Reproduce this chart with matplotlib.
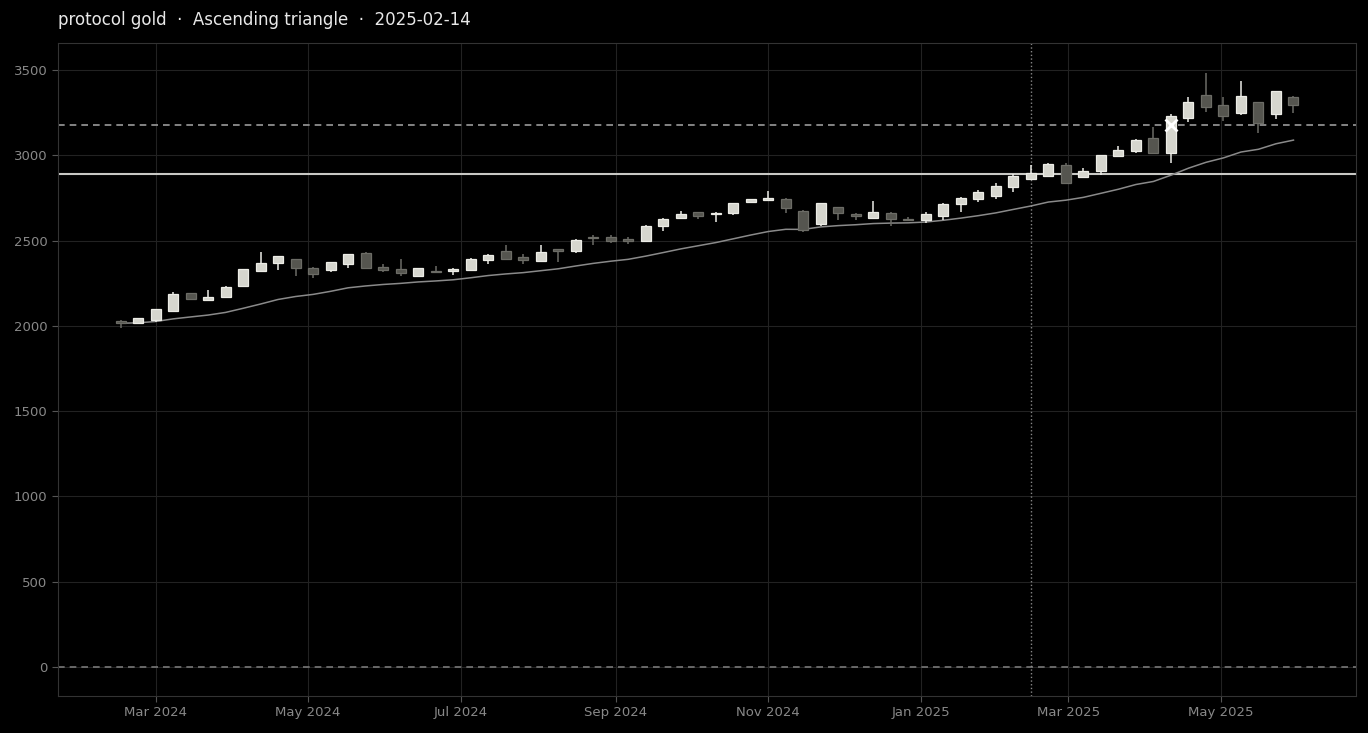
import matplotlib
matplotlib.use("Agg")
import matplotlib.pyplot as plt
import matplotlib.dates as mdates
import numpy as np
import pandas as pd

# weekly candles, Fridays from 2024-02-16
start = "2024-02-16"
n_weeks = 68

opens = [2030, 2015, 2034, 2086, 2190, 2150, 2167, 2235, 2323, 2367,
         2390, 2340, 2326, 2361, 2425, 2343, 2331, 2292, 2322, 2323,
         2326, 2386, 2437, 2405, 2380, 2448, 2436, 2520, 2518, 2508,
         2496, 2585, 2630, 2668, 2656, 2660, 2725, 2737, 2745, 2676,
         2596, 2695, 2658, 2635, 2664, 2628, 2621, 2646, 2712, 2746,
         2763, 2815, 2863, 2881, 2940, 2875, 2908, 2995, 3027, 3099,
         3016, 3216, 3352, 3293, 3246, 3310, 3240, 3339]
highs = [2032, 2046, 2100, 2197, 2192, 2212, 2235, 2334, 2430, 2410,
         2392, 2346, 2375, 2421, 2431, 2360, 2390, 2339, 2350, 2337,
         2396, 2420, 2475, 2420, 2475, 2450, 2510, 2530, 2531, 2520,
         2589, 2630, 2672, 2670, 2666, 2722, 2746, 2788, 2747, 2678,
         2720, 2697, 2660, 2733, 2666, 2640, 2665, 2719, 2754, 2796,
         2840, 2890, 2943, 2955, 2955, 2927, 3004, 3052, 3094, 3167,
         3240, 3343, 3484, 3343, 3433, 3312, 3376, 3347]
lows = [1990, 2013, 2025, 2084, 2157, 2148, 2165, 2233, 2321, 2325,
        2295, 2280, 2314, 2340, 2335, 2318, 2292, 2290, 2315, 2300,
        2324, 2360, 2392, 2360, 2378, 2375, 2428, 2475, 2488, 2482,
        2492, 2555, 2628, 2625, 2608, 2648, 2718, 2735, 2660, 2552,
        2585, 2618, 2620, 2630, 2585, 2615, 2601, 2620, 2670, 2728,
        2742, 2785, 2861, 2879, 2838, 2865, 2882, 2992, 3012, 3014,
        2953, 3197, 3255, 3198, 3236, 3130, 3210, 3248]
closes = [2015, 2044, 2097, 2187, 2160, 2168, 2226, 2331, 2367, 2408,
          2337, 2302, 2373, 2419, 2337, 2325, 2310, 2337, 2318, 2335,
          2394, 2418, 2394, 2385, 2430, 2441, 2506, 2512, 2500, 2495,
          2587, 2628, 2654, 2646, 2664, 2720, 2744, 2747, 2690, 2560,
          2718, 2660, 2642, 2665, 2628, 2618, 2653, 2717, 2752, 2782,
          2817, 2876, 2893, 2946, 2840, 2910, 3002, 3028, 3092, 3016,
          3230, 3315, 3285, 3232, 3346, 3188, 3374, 3292]

title = "protocol gold  \u00b7  Ascending triangle  \u00b7  2025-02-14"
support_level = 2890
resistance_level = 3178
signal_date = "2025-02-14"
breakout_index = 60

dates = pd.date_range(start, periods=n_weeks, freq="7D")
ema = pd.Series(closes).ewm(span=20, adjust=False).mean()

bg = "#000000"
up_fill, up_edge = "#d6d6ce", "#ececE6"
dn_fill, dn_edge = "#55554f", "#6c6c66"

fig = plt.figure(figsize=(13.68, 7.33), dpi=100, facecolor=bg)
ax = fig.add_axes([58 / 1368, 37 / 733, 1298 / 1368, 653 / 733], facecolor=bg)

x = mdates.date2num(dates)
body_w = 4.0
for xi, o, h, l, c in zip(x, opens, highs, lows, closes):
    up = c >= o
    fill = up_fill if up else dn_fill
    edge = up_edge if up else dn_edge
    ax.vlines(xi, l, h, color=edge, lw=1.1, zorder=3)
    ax.bar(xi, abs(c - o) or 2, bottom=min(o, c), width=body_w,
           color=fill, edgecolor=edge, lw=0.9, zorder=4)

ax.plot(x, ema, color="#8a8a8a", lw=1.1, zorder=2)

ax.axhline(support_level, color="#c8c8c4", lw=1.5, zorder=1)
ax.axhline(resistance_level, color="#9a9a9a", lw=1.2, ls=(0, (4, 3)), zorder=1)
ax.axhline(0, color="#777777", lw=1.2, ls=(0, (4, 3)), zorder=1)
ax.axvline(mdates.datestr2num(signal_date), color="#888888", lw=1.0, ls=":", zorder=1)
ax.plot(x[breakout_index], resistance_level, marker="x", ms=9, mew=2,
        color="#ffffff", zorder=6)

ax.set_xlim(mdates.datestr2num("2024-01-22"), mdates.datestr2num("2025-06-24"))
ax.set_ylim(-170, 3658)
ax.set_yticks(np.arange(0, 3501, 500))
ax.xaxis.set_major_locator(mdates.MonthLocator(bymonth=[1, 3, 5, 7, 9, 11]))
ax.xaxis.set_major_formatter(mdates.DateFormatter("%b %Y"))

ax.grid(True, color="#222222", lw=0.8, zorder=0)
ax.set_axisbelow(True)
for s in ax.spines.values():
    s.set_color("#333333")
ax.tick_params(colors="#888888", labelsize=9.5, length=4)
ax.tick_params(axis="both", colors="#555555", labelcolor="#888888")

fig.text(58 / 1368, 1 - 20 / 733, title, color="#e8e8e8", fontsize=12,
         ha="left", va="center")

fig.savefig("out.png", dpi=100, facecolor=bg)
